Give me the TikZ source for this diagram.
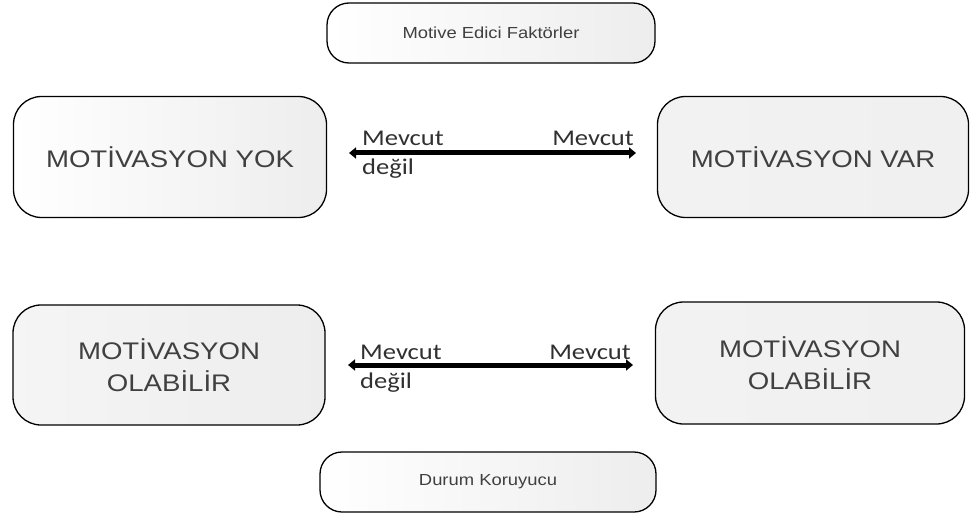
\documentclass[tikz,border=0pt]{standalone}
\usepackage{fontspec}
\setmainfont{Liberation Sans}
\newfontfamily\boxfont[FakeStretch=1.15]{Liberation Sans}
\newfontfamily\calib[FakeStretch=1.18]{Carlito}
\usetikzlibrary{arrows.meta}
\definecolor{txt}{HTML}{404040}
\definecolor{lbl}{HTML}{303030}
\tikzset{
  box/.style={draw=black, line width=1.3pt, rounded corners=28pt, align=center,
    text=txt, inner sep=0pt, left color=white, right color=gray!14},
  flatbox/.style={box, left color=gray!10, right color=gray!12},
  bigtxt/.style={font=\boxfont\fontsize{24}{32}\selectfont},
  smalltxt/.style={font=\boxfont\fontsize{16}{18}\selectfont},
  dbl/.style={line width=5pt, {Triangle[length=7pt,width=11pt]}-{Triangle[length=7pt,width=11pt]}},
  lab/.style={font=\calib\fontsize{22.5}{26}\selectfont, text=lbl, inner sep=0pt, anchor=base west}
}
\begin{document}
\begin{tikzpicture}[x=1pt,y=-1pt]
\useasboundingbox (0,0) rectangle (973,513);
\node[box, smalltxt, minimum width=328pt, minimum height=60pt, rounded corners=22pt] (top) at (491,33) {Motive Edici Faktörler};
\node[box, bigtxt, minimum width=313pt, minimum height=121pt] (nomot) at (170,157) {MOTİVASYON YOK};
\node[flatbox, bigtxt, minimum width=311pt, minimum height=121pt] (mot) at (813,157) {MOTİVASYON VAR};
\node[box, bigtxt, minimum width=312pt, minimum height=120pt, left color=gray!8] (ol1) at (169,365) {MOTİVASYON\\OLABİLİR};
\node[flatbox, bigtxt, minimum width=309pt, minimum height=122pt] (ol2) at (810,363) {MOTİVASYON\\OLABİLİR};
\node[box, smalltxt, minimum width=336pt, minimum height=60pt, rounded corners=22pt] (bot) at (488,482) {Durum Koruyucu};
\coordinate (a1l) at (349,153);
\coordinate (a1r) at (636,153);
\coordinate (a2l) at (348,365);
\coordinate (a2r) at (633,365);
\draw[dbl] (a1l) -- (a1r);
\draw[dbl] (a2l) -- (a2r);
\node[lab] (m1) at (362,146) {Mevcut};
\node[lab] (d1) at (362,175) {değil};
\node[lab, anchor=base east] (v1) at (634,146) {Mevcut};
\node[lab] (m2) at (360,359) {Mevcut};
\node[lab] (d2) at (360,388) {değil};
\node[lab, anchor=base east] (v2) at (631,359) {Mevcut};
\end{tikzpicture}
\end{document}
